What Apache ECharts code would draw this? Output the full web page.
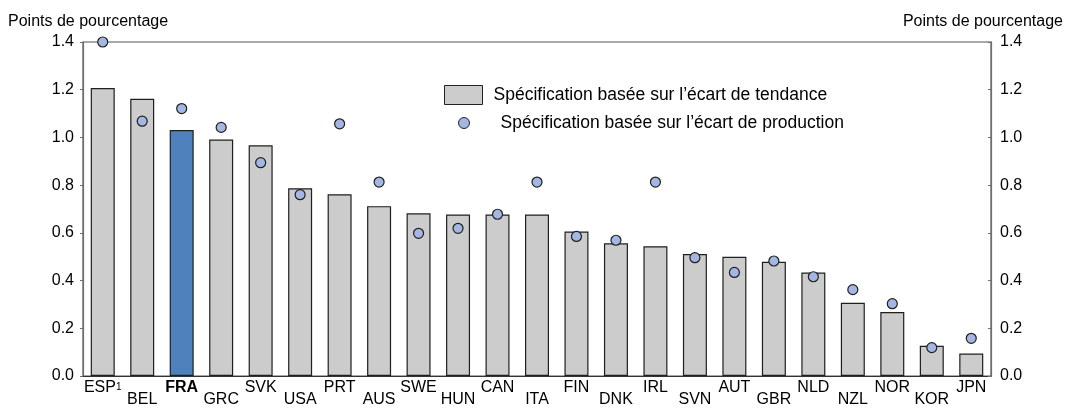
<!DOCTYPE html>
<html>
<head>
<meta charset="utf-8">
<script src="https://cdn.jsdelivr.net/npm/echarts@6/dist/echarts.min.js"></script>
<style>html,body{margin:0;padding:0;background:#fff}#c{width:1069px;height:408px}</style>
</head>
<body>
<div id="c"></div>
<script>
const categories = ['ESP','BEL','FRA','GRC','SVK','USA','PRT','AUS','SWE','HUN','CAN','ITA','FIN','DNK','IRL','SVN','AUT','GBR','NLD','NZL','NOR','KOR','JPN'];
const trendGap = [1.207,1.162,1.031,0.991,0.967,0.787,0.762,0.712,0.682,0.677,0.677,0.677,0.606,0.556,0.544,0.511,0.500,0.479,0.434,0.307,0.268,0.127,0.094];
const outputGap = [1.400,1.068,1.121,1.042,0.894,0.760,1.057,0.813,0.598,0.619,0.678,0.813,0.585,0.569,0.813,0.496,0.434,0.482,0.416,0.362,0.303,0.119,0.158];
const yTicks = [0.0,0.2,0.4,0.6,0.8,1.0,1.2,1.4];
const highlight = 'FRA';
const footnoted = 'ESP';
const axisTitle = 'Points de pourcentage';
const legendTrend = 'Spécification basée sur l\u2019écart de tendance';
const legendOutput = 'Spécification basée sur l\u2019écart de production';

const FONT = 'Liberation Sans, Arial, sans-serif';
const chart = echarts.init(document.getElementById('c'), null, {renderer: 'canvas'});

const barData = trendGap.map((v, i) => ({
  value: v,
  itemStyle: categories[i] === highlight ? {color: '#4f81bd'} : undefined
}));

function yAxisCfg(pos) {
  return {
    type: 'value', position: pos,
    min: yTicks[0], max: yTicks[yTicks.length - 1], interval: 0.2,
    axisLine: {show: true, lineStyle: {color: '#6e6e6e', width: 1.2}},
    axisTick: {show: true, inside: pos === 'right', length: 3, lineStyle: {color: '#6e6e6e'}},
    splitLine: {show: false},
    axisLabel: {
      color: '#000', fontFamily: FONT, fontSize: 16, margin: 9,
      formatter: v => v.toFixed(1)
    }
  };
}

chart.setOption({
  animation: false,
  textStyle: {fontFamily: FONT},
  title: [
    {text: axisTitle, left: 3, top: 9, textStyle: {fontSize: 16, fontWeight: 'normal', color: '#000', fontFamily: FONT}},
    {text: axisTitle, right: 1, top: 9, textStyle: {fontSize: 16, fontWeight: 'normal', color: '#000', fontFamily: FONT}}
  ],
  grid: {left: 83, right: 78, top: 42, bottom: 28, show: true, borderColor: '#555', borderWidth: 1.2, containLabel: false},
  legend: [
    {
      data: [{name: legendTrend, icon: 'rect'}], left: 439, top: 80, itemWidth: 38, itemHeight: 19, orient: 'vertical',
      textStyle: {fontSize: 17.5, color: '#000', fontFamily: FONT, padding: [0, 0, 0, 6]},
      itemStyle: {color: '#cccccc', borderColor: '#222', borderWidth: 1}
    },
    {
      data: [{name: legendOutput, icon: 'circle'}], left: 453, top: 109, itemWidth: 11, itemHeight: 11, orient: 'vertical',
      textStyle: {fontSize: 17.5, color: '#000', fontFamily: FONT, padding: [0, 0, 0, 26]},
      itemStyle: {color: '#a4b7e2', borderColor: '#222', borderWidth: 1}
    }
  ],
  xAxis: {
    type: 'category', data: categories,
    axisLine: {show: true, lineStyle: {color: '#333', width: 1.2}},
    axisTick: {show: false},
    axisLabel: {
      interval: 0, margin: 6, color: '#000', fontSize: 16, lineHeight: 12, fontFamily: FONT,
      formatter: (v, i) => {
        let s = v;
        if (v === highlight) s = '{b|' + v + '}';
        else if (v === footnoted) s = v + '{sup|1}';
        return i % 2 ? '\n' + s : s;
      },
      rich: {
        b: {fontWeight: 'bold', fontSize: 16, lineHeight: 12, color: '#000', fontFamily: FONT},
        sup: {fontSize: 10, lineHeight: 10, verticalAlign: 'top', color: '#000', fontFamily: FONT}
      }
    }
  },
  yAxis: [yAxisCfg('left'), yAxisCfg('right')],
  series: [
    {
      name: legendTrend, type: 'bar', data: barData, barWidth: 24, yAxisIndex: 0,
      itemStyle: {color: '#cccccc', borderColor: '#1f1f1f', borderWidth: 1.2}
    },
    {
      name: legendOutput, type: 'scatter', data: outputGap, yAxisIndex: 0, clip: false,
      symbol: 'circle', symbolSize: 10, z: 5,
      itemStyle: {color: '#a4b7e2', borderColor: '#1f1f1f', borderWidth: 1.2, opacity: 1}
    }
  ]
});
</script>
</body>
</html>
